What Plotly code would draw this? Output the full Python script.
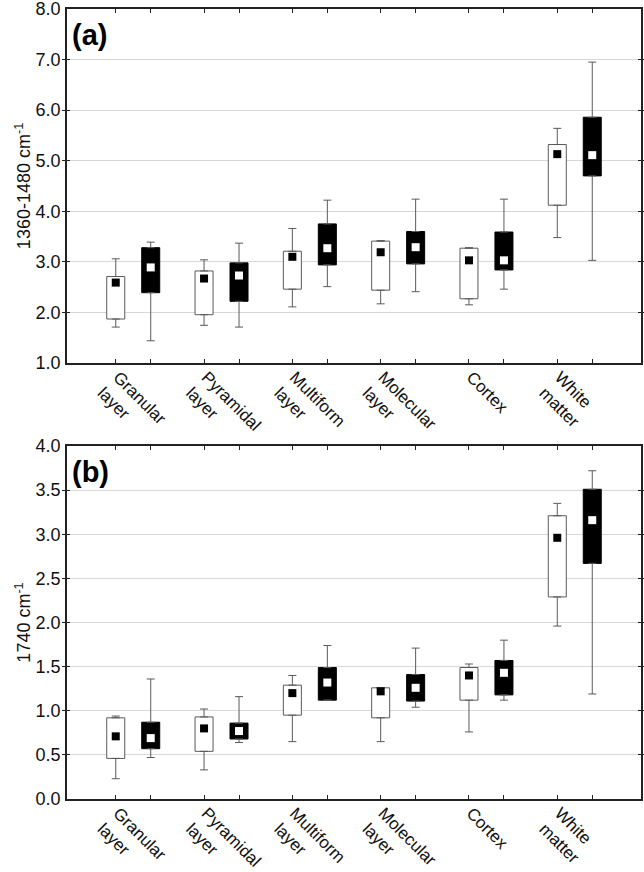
import plotly.graph_objects as go

categories = ["Granular<br>layer", "Pyramidal<br>layer", "Multiform<br>layer",
              "Molecular<br>layer", "Cortex", "White<br>matter"]

# Panel (a): 1360-1480 cm-1   (white boxes = group 1, black boxes = group 2)
a_w_min = [1.71, 1.745, 2.11, 2.17, 2.15, 3.48]
a_w_q1 = [1.87, 1.955, 2.46, 2.44, 2.27, 4.12]
a_w_med = [2.59, 2.67, 3.10, 3.19, 3.03, 5.13]
a_w_q3 = [2.71, 2.82, 3.21, 3.41, 3.27, 5.32]
a_w_max = [3.06, 3.04, 3.66, 3.42, 3.28, 5.64]

a_b_min = [1.44, 1.71, 2.51, 2.41, 2.46, 3.03]
a_b_q1 = [2.39, 2.22, 2.94, 2.96, 2.84, 4.70]
a_b_med = [2.89, 2.73, 3.27, 3.29, 3.03, 5.11]
a_b_q3 = [3.28, 2.98, 3.75, 3.60, 3.59, 5.86]
a_b_max = [3.39, 3.37, 4.22, 4.24, 4.24, 6.95]

# Panel (b): 1740 cm-1
b_w_min = [0.23, 0.33, 0.65, 0.65, 0.76, 1.96]
b_w_q1 = [0.46, 0.54, 0.95, 0.92, 1.12, 2.29]
b_w_med = [0.71, 0.80, 1.20, 1.22, 1.40, 2.96]
b_w_q3 = [0.92, 0.93, 1.29, 1.26, 1.49, 3.21]
b_w_max = [0.94, 1.02, 1.40, 1.26, 1.53, 3.35]

b_b_min = [0.47, 0.64, 1.12, 1.04, 1.12, 1.19]
b_b_q1 = [0.57, 0.68, 1.12, 1.11, 1.18, 2.67]
b_b_med = [0.69, 0.77, 1.32, 1.26, 1.43, 3.16]
b_b_q3 = [0.87, 0.86, 1.49, 1.41, 1.57, 3.51]
b_b_max = [1.36, 1.16, 1.74, 1.71, 1.80, 3.72]

OFF = 0.198
BW = 0.204
LABEL_SHIFT = 0.17
GRAY = "#5a5a5a"
FONT = "Arial, Liberation Sans, sans-serif"

idx = list(range(len(categories)))
xw = [i - OFF for i in idx]
xb = [i + OFF for i in idx]
label_pos = [i - LABEL_SHIFT for i in idx]

fig = go.Figure()


def add_series(x, mn, q1, med, q3, mx, fill, mcol, xa, ya):
    fig.add_trace(go.Bar(
        x=x, y=[b - a for a, b in zip(q1, q3)], base=q1, width=BW,
        marker=dict(color=fill, line=dict(color=GRAY if fill == "white" else "black", width=1)),
        xaxis=xa, yaxis=ya, showlegend=False, hoverinfo="skip"))
    fig.add_trace(go.Scatter(
        x=x, y=q3, mode="markers", marker=dict(size=1, opacity=0),
        error_y=dict(type="data", symmetric=False,
                     array=[b - a for a, b in zip(q3, mx)], arrayminus=[0] * len(x),
                     color=GRAY, thickness=1, width=4),
        xaxis=xa, yaxis=ya, showlegend=False, hoverinfo="skip"))
    fig.add_trace(go.Scatter(
        x=x, y=q1, mode="markers", marker=dict(size=1, opacity=0),
        error_y=dict(type="data", symmetric=False,
                     array=[0] * len(x), arrayminus=[a - b for a, b in zip(q1, mn)],
                     color=GRAY, thickness=1, width=4),
        xaxis=xa, yaxis=ya, showlegend=False, hoverinfo="skip"))
    fig.add_trace(go.Scatter(
        x=x, y=med, mode="markers",
        marker=dict(symbol="square", size=8, color=mcol, line=dict(width=0)),
        xaxis=xa, yaxis=ya, showlegend=False, hoverinfo="skip"))


add_series(xw, a_w_min, a_w_q1, a_w_med, a_w_q3, a_w_max, "white", "black", "x", "y")
add_series(xb, a_b_min, a_b_q1, a_b_med, a_b_q3, a_b_max, "black", "white", "x", "y")
add_series(xw, b_w_min, b_w_q1, b_w_med, b_w_q3, b_w_max, "white", "black", "x2", "y2")
add_series(xb, b_b_min, b_b_q1, b_b_med, b_b_q3, b_b_max, "black", "white", "x2", "y2")

box_pos = sorted(xw + xb)
XR = [-0.75, 5.75]

xticks_axis = dict(
    range=XR, tickmode="array", tickvals=box_pos, showticklabels=False,
    ticks="inside", ticklen=4, tickcolor="#222", tickwidth=1,
    showgrid=False, zeroline=False, automargin=False,
    showline=True, linecolor="#222", linewidth=1.5, mirror="ticks",
)

xlabel_axis = dict(
    range=XR, tickmode="array", tickvals=label_pos, ticktext=categories,
    ticks="", tickangle=45, showgrid=False, zeroline=False, showline=False,
    automargin=False, ticklabelstandoff=0, side="bottom", ticklabeloverflow="allow",
    tickfont=dict(family=FONT, size=17, color="#111"),
)

ycommon = dict(
    showgrid=True, gridcolor="#d8d8d8", gridwidth=1, zeroline=False,
    showline=True, linecolor="#222", linewidth=1.5, mirror="allticks",
    ticks="inside", ticklen=3, tickcolor="#222", automargin=False,
    ticklabelstandoff=1, ticklabeloverflow="allow",
    tickfont=dict(family=FONT, size=18, color="#111"), tickformat=".1f",
)

fig.update_layout(
    width=644, height=872,
    margin=dict(l=67, r=3, t=9, b=73),
    paper_bgcolor="white", plot_bgcolor="white",
    barmode="overlay", showlegend=False,
    xaxis=dict(domain=[0, 1], anchor="y", **xticks_axis),
    xaxis3=dict(domain=[0, 1], anchor="y", overlaying="x", **xlabel_axis),
    yaxis=dict(domain=[0.5519, 1], anchor="x", range=[1, 8], dtick=1, tick0=1,
               title=dict(text="1360-1480 cm<sup>-1</sup>", standoff=0,
                          font=dict(family=FONT, size=18, color="#111")),
               **ycommon),
    xaxis2=dict(domain=[0, 1], anchor="y2", **xticks_axis),
    xaxis4=dict(domain=[0, 1], anchor="y2", overlaying="x2", **xlabel_axis),
    yaxis2=dict(domain=[0, 0.4468], anchor="x2", range=[0, 4], dtick=0.5, tick0=0,
                title=dict(text="1740 cm<sup>-1</sup>", standoff=0,
                           font=dict(family=FONT, size=18, color="#111")),
                **ycommon),
    annotations=[
        dict(text="<b>(a)</b>", xref="x domain", yref="y domain", x=0.006, y=0.977,
             xanchor="left", yanchor="top", showarrow=False,
             font=dict(family=FONT, size=29, color="black")),
        dict(text="<b>(b)</b>", xref="x2 domain", yref="y2 domain", x=0.006, y=0.977,
             xanchor="left", yanchor="top", showarrow=False,
             font=dict(family=FONT, size=29, color="black")),
    ],
)

fig.add_trace(go.Scatter(x=label_pos, y=[None] * len(idx), xaxis="x3", yaxis="y",
                         showlegend=False, hoverinfo="skip"))
fig.add_trace(go.Scatter(x=label_pos, y=[None] * len(idx), xaxis="x4", yaxis="y2",
                         showlegend=False, hoverinfo="skip"))

# remove the browser's default 8px page margin so the figure fills the window
fig.write_html("out.html",
               config={"displayModeBar": False},
               post_script="document.body.style.margin='0';document.body.style.overflow='hidden';")
